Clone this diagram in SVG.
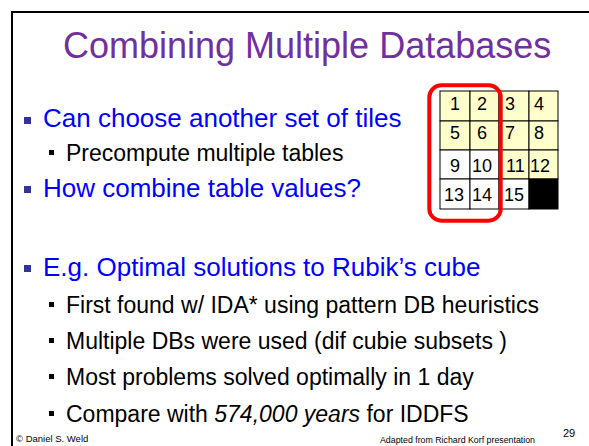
<svg xmlns="http://www.w3.org/2000/svg" width="589" height="446" viewBox="0 0 589 446">
  <style>
    .title { font-family: "Liberation Sans", Arial, sans-serif; font-size: 36px; fill: #7030A0; }
    .l1 { font-family: "Liberation Sans", Arial, sans-serif; font-size: 26px; fill: #0000FF; }
    .l2 { font-family: "Liberation Sans", Arial, sans-serif; font-size: 23px; fill: #000000; }
    .b1 { fill: #333399; }
    .b2 { fill: #000000; }
    .num { font-family: "Liberation Sans", Arial, sans-serif; font-size: 18px; fill: #000000; }
    .cell { stroke: #000000; stroke-width: 1; }
    .foot { font-family: "Liberation Sans", Arial, sans-serif; fill: #000000; }
  </style>

  <rect width="589" height="446" fill="#FFFFFF"/>

  <!-- slide frame -->
  <g id="frame" stroke="#000000" stroke-width="2" fill="none">
    <path d="M12 446 V12 H589"/>
  </g>

  <g id="title">
    <text class="title" x="63" y="58">Combining Multiple Databases</text>
  </g>

  <!-- upper bullet list -->
  <g id="bullets-top">
    <rect class="b1" x="24" y="117" width="7" height="7"/>
    <text class="l1" x="43" y="127">Can choose another set of tiles</text>
    <rect class="b2" x="49" y="150" width="5" height="5"/>
    <text class="l2" x="66" y="161">Precompute multiple tables</text>
    <rect class="b1" x="24" y="186" width="7" height="7"/>
    <text class="l1" x="43" y="197">How combine table values?</text>
  </g>

  <!-- 15-puzzle board -->
  <g id="board">
    <g class="cell">
      <rect x="440" y="91" width="30" height="30" fill="#FFFFCC"/>
      <rect x="470" y="91" width="29" height="30" fill="#FFFFCC"/>
      <rect x="499" y="91" width="30" height="30" fill="#FFFFCC"/>
      <rect x="529" y="91" width="29" height="30" fill="#FFFFCC"/>
      <rect x="440" y="121" width="30" height="29" fill="#FFFFCC"/>
      <rect x="470" y="121" width="29" height="29" fill="#FFFFCC"/>
      <rect x="499" y="121" width="30" height="29" fill="#FFFFCC"/>
      <rect x="529" y="121" width="29" height="29" fill="#FFFFCC"/>
      <rect x="440" y="150" width="30" height="29" fill="#FFFFFF"/>
      <rect x="470" y="150" width="29" height="29" fill="#FFFFFF"/>
      <rect x="499" y="150" width="30" height="29" fill="#FFFFCC"/>
      <rect x="529" y="150" width="29" height="29" fill="#FFFFCC"/>
      <rect x="440" y="179" width="30" height="30" fill="#FFFFFF"/>
      <rect x="470" y="179" width="29" height="30" fill="#FFFFFF"/>
      <rect x="499" y="179" width="30" height="30" fill="#FFFFFF"/>
      <rect x="529" y="179" width="29" height="30" fill="#000000"/>
    </g>
    <g class="num">
      <text x="450" y="110">1</text>
      <text x="477" y="110">2</text>
      <text x="505" y="110">3</text>
      <text x="534" y="110">4</text>
      <text x="450" y="139">5</text>
      <text x="477" y="139">6</text>
      <text x="505" y="139">7</text>
      <text x="534" y="139">8</text>
      <text x="450" y="172">9</text>
      <text x="472" y="172">10</text>
      <text x="506" y="172">11</text>
      <text x="530" y="172">12</text>
      <text x="444" y="201">13</text>
      <text x="472" y="201">14</text>
      <text x="504" y="201">15</text>
    </g>
  </g>

  <!-- highlighted tile subset -->
  <g id="subset">
    <rect x="429.3" y="85.3" width="71.4" height="135.4" rx="12" fill="none" stroke="#FF0000" stroke-width="4"/>
  </g>

  <!-- lower bullet list -->
  <g id="bullets-bottom">
    <rect class="b1" x="24" y="265" width="7" height="7"/>
    <text class="l1" x="43" y="276">E.g. Optimal solutions to Rubik’s cube</text>
    <rect class="b2" x="49" y="302" width="5" height="5"/>
    <text class="l2" x="66" y="313">First found w/ IDA* using pattern DB heuristics</text>
    <rect class="b2" x="49" y="338" width="5" height="5"/>
    <text class="l2" x="66" y="349">Multiple DBs were used (dif cubie subsets )</text>
    <rect class="b2" x="49" y="374" width="5" height="5"/>
    <text class="l2" x="66" y="385">Most problems solved optimally in 1 day</text>
    <rect class="b2" x="49" y="411" width="5" height="5"/>
    <text class="l2" x="66" y="422">Compare with <tspan font-style="italic">574,000 years</tspan> for IDDFS</text>
  </g>

  <!-- footer -->
  <g id="footer">
    <text class="foot" x="16" y="442" font-size="9.5">© Daniel S. Weld</text>
    <text class="foot" x="380" y="443" font-size="8.5" textLength="155" lengthAdjust="spacingAndGlyphs">Adapted from Richard Korf presentation</text>
    <text class="foot" x="563" y="437" font-size="11">29</text>
  </g>
</svg>
